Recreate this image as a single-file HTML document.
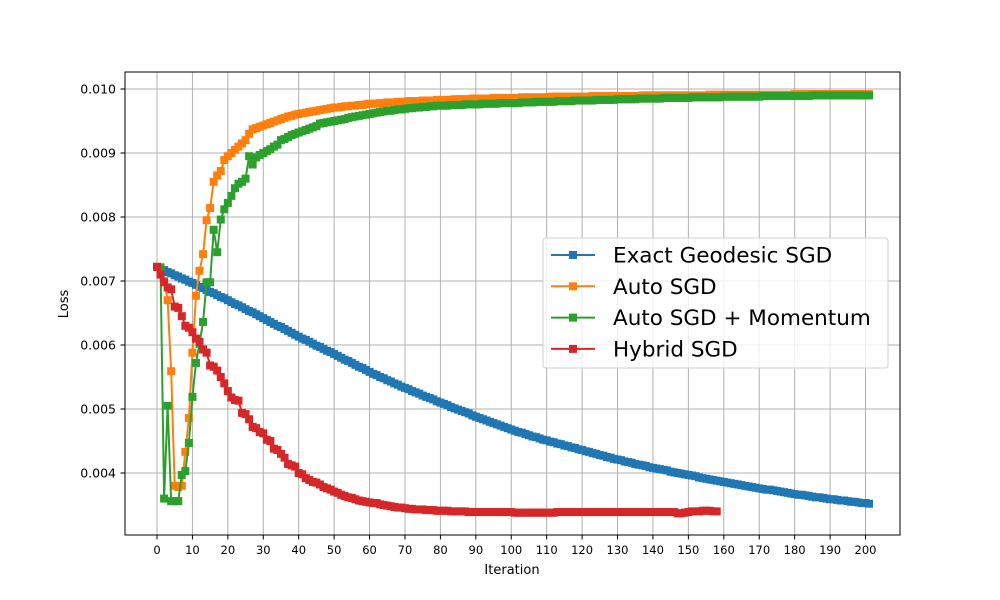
<!DOCTYPE html>
<html><head><meta charset="utf-8"><style>
html,body{margin:0;padding:0;background:#fff;}
svg{display:block;font-family:"DejaVu Sans","Liberation Sans",sans-serif;}
</style></head><body>
<svg id="chart" width="1000" height="600" viewBox="0 0 1000 600">
<rect x="0" y="0" width="1000" height="600" fill="#fff"/>
<g id="grid"></g>
<g id="series"></g>
<rect x="125" y="72" width="775" height="463" fill="none" stroke="#000" stroke-width="1"/>
<g id="xticks"></g>
<g id="yticks"></g>
<text x="512" y="574" font-size="13" text-anchor="middle">Iteration</text>
<text x="68" y="304" font-size="13" text-anchor="middle" transform="rotate(-90 68 304)">Loss</text>
<g id="legend"></g>
</svg>
<script>
// values are loss x 1e-3
const xTickLabels = [0,10,20,30,40,50,60,70,80,90,100,110,120,130,140,150,160,170,180,190,200];
const yTickValues = [4,5,6,7,8,9,10];
const yTickLabels = ["0.004","0.005","0.006","0.007","0.008","0.009","0.010"];
const seriesNames = ["Exact Geodesic SGD","Auto SGD","Auto SGD + Momentum","Hybrid SGD"];
const exactGeodesic = [7.22,7.19,7.17,7.14,7.12,7.09,7.07,7.04,7.02,6.99,6.97,
6.94,6.91,6.89,6.86,6.83,6.81,6.78,6.75,6.73,6.70,
6.67,6.64,6.62,6.59,6.56,6.53,6.51,6.48,6.45,6.42,
6.39,6.36,6.33,6.30,6.28,6.25,6.22,6.19,6.16,6.13,
6.10,6.08,6.05,6.02,5.99,5.97,5.94,5.91,5.89,5.86,
5.83,5.80,5.77,5.75,5.72,5.69,5.66,5.64,5.61,5.58,
5.55,5.53,5.50,5.48,5.45,5.43,5.40,5.38,5.35,5.33,
5.31,5.28,5.26,5.24,5.21,5.19,5.17,5.15,5.12,5.10,
5.08,5.06,5.03,5.01,4.99,4.97,4.95,4.93,4.90,4.88,
4.86,4.84,4.82,4.80,4.78,4.76,4.74,4.72,4.70,4.68,
4.66,4.64,4.63,4.61,4.59,4.57,4.56,4.54,4.52,4.51,
4.49,4.48,4.46,4.45,4.43,4.42,4.40,4.39,4.37,4.36,
4.34,4.33,4.31,4.30,4.28,4.27,4.25,4.24,4.22,4.21,
4.20,4.18,4.17,4.16,4.14,4.13,4.12,4.11,4.09,4.08,
4.07,4.06,4.05,4.04,4.02,4.01,4.00,3.99,3.98,3.97,
3.96,3.95,3.93,3.92,3.91,3.90,3.89,3.88,3.87,3.86,
3.85,3.84,3.83,3.82,3.81,3.80,3.79,3.78,3.77,3.76,
3.75,3.74,3.74,3.73,3.72,3.71,3.70,3.69,3.68,3.67,
3.66,3.66,3.65,3.64,3.63,3.62,3.62,3.61,3.60,3.59,
3.59,3.58,3.57,3.57,3.56,3.55,3.55,3.54,3.53,3.53,3.52];
const autoSgd = [7.22,7.22,7.00,6.70,5.59,3.80,3.78,3.80,4.33,4.86,5.88,
6.77,7.16,7.42,7.95,8.14,8.55,8.65,8.72,8.89,8.95,
9.00,9.05,9.10,9.15,9.20,9.30,9.37,9.39,9.41,9.43,
9.45,9.47,9.49,9.51,9.53,9.55,9.57,9.58,9.60,9.61,
9.62,9.63,9.64,9.65,9.66,9.67,9.68,9.69,9.70,9.71,
9.71,9.72,9.73,9.73,9.74,9.74,9.75,9.75,9.76,9.77,
9.77,9.77,9.78,9.78,9.79,9.79,9.79,9.80,9.80,9.80,
9.81,9.81,9.81,9.81,9.82,9.82,9.82,9.82,9.83,9.83,
9.83,9.83,9.83,9.84,9.84,9.84,9.84,9.84,9.85,9.85,
9.85,9.85,9.85,9.85,9.86,9.86,9.86,9.86,9.86,9.86,
9.86,9.86,9.87,9.87,9.87,9.87,9.87,9.87,9.87,9.87,
9.88,9.88,9.88,9.88,9.88,9.88,9.88,9.88,9.88,9.88,
9.88,9.88,9.89,9.89,9.89,9.89,9.89,9.89,9.89,9.89,
9.89,9.89,9.89,9.89,9.89,9.89,9.90,9.90,9.90,9.90,
9.90,9.90,9.90,9.90,9.90,9.90,9.90,9.90,9.90,9.90,
9.90,9.90,9.90,9.90,9.90,9.91,9.91,9.91,9.91,9.91,
9.91,9.91,9.91,9.91,9.91,9.91,9.91,9.91,9.91,9.91,
9.91,9.91,9.91,9.91,9.91,9.91,9.91,9.91,9.91,9.92,
9.92,9.92,9.92,9.92,9.92,9.92,9.92,9.92,9.92,9.92,
9.92,9.92,9.92,9.92,9.92,9.92,9.92,9.92,9.92,9.92,9.92];
const autoSgdMomentum = [7.22,7.20,3.60,5.05,3.56,3.56,3.56,3.97,4.03,4.47,5.19,
5.72,6.02,6.36,6.98,6.98,7.80,7.45,7.96,8.12,8.22,
8.33,8.45,8.52,8.55,8.60,8.95,8.82,8.93,8.97,9.00,
9.03,9.06,9.10,9.13,9.20,9.22,9.25,9.28,9.30,9.32,
9.34,9.36,9.38,9.40,9.42,9.46,9.47,9.48,9.49,9.50,
9.51,9.52,9.53,9.55,9.56,9.57,9.58,9.59,9.60,9.61,
9.62,9.63,9.64,9.65,9.66,9.66,9.67,9.68,9.68,9.69,
9.70,9.70,9.71,9.71,9.72,9.72,9.73,9.73,9.74,9.74,
9.74,9.74,9.75,9.75,9.75,9.75,9.76,9.76,9.76,9.76,
9.76,9.77,9.77,9.77,9.77,9.77,9.78,9.78,9.78,9.78,
9.78,9.78,9.79,9.79,9.79,9.79,9.80,9.80,9.80,9.80,
9.80,9.80,9.81,9.81,9.81,9.81,9.81,9.82,9.82,9.82,
9.82,9.82,9.82,9.83,9.83,9.83,9.83,9.83,9.83,9.84,
9.84,9.84,9.84,9.84,9.84,9.85,9.85,9.85,9.85,9.85,
9.85,9.85,9.86,9.86,9.86,9.86,9.86,9.86,9.86,9.86,
9.87,9.87,9.87,9.87,9.87,9.87,9.87,9.87,9.87,9.88,
9.88,9.88,9.88,9.88,9.88,9.88,9.88,9.88,9.88,9.88,
9.89,9.89,9.89,9.89,9.89,9.89,9.89,9.89,9.89,9.89,
9.89,9.89,9.89,9.89,9.90,9.90,9.90,9.90,9.90,9.90,
9.90,9.90,9.90,9.90,9.90,9.90,9.90,9.90,9.90,9.90,9.90];
const hybridSgd = [7.22,7.10,6.98,6.90,6.87,6.60,6.58,6.45,6.30,6.27,6.20,
6.10,6.05,5.93,5.88,5.68,5.66,5.60,5.50,5.40,5.28,
5.18,5.14,5.13,4.94,4.92,4.84,4.72,4.70,4.64,4.62,
4.52,4.50,4.38,4.36,4.30,4.24,4.14,4.12,4.10,4.00,
3.98,3.92,3.89,3.86,3.85,3.82,3.78,3.76,3.74,3.71,
3.69,3.66,3.64,3.62,3.61,3.59,3.57,3.56,3.55,3.54,
3.53,3.53,3.51,3.50,3.49,3.48,3.47,3.46,3.46,3.45,
3.44,3.44,3.43,3.43,3.43,3.42,3.42,3.42,3.41,3.41,
3.41,3.41,3.40,3.40,3.40,3.40,3.40,3.39,3.39,3.39,
3.39,3.39,3.39,3.39,3.39,3.39,3.39,3.39,3.39,3.39,
3.38,3.38,3.38,3.38,3.38,3.38,3.38,3.38,3.38,3.38,
3.38,3.38,3.39,3.39,3.39,3.39,3.39,3.39,3.39,3.39,
3.39,3.39,3.39,3.39,3.39,3.39,3.39,3.39,3.39,3.39,
3.39,3.39,3.39,3.39,3.39,3.39,3.39,3.39,3.39,3.39,
3.39,3.39,3.39,3.39,3.39,3.39,
3.37,3.37,3.38,3.39,3.40,3.40,3.40,3.41,3.41,3.41,3.40,3.40];
const colors = ["#1f77b4","#ff7f0e","#2ca02c","#d62728"];

const NS = "http://www.w3.org/2000/svg";
function xScale(i){ return 157 + (865.5-157)*i/200; }
function yScale(v){ return 89 + (10 - v)*64; }
function mk(tag, attrs, parent){ const e=document.createElementNS(NS,tag); for(const k in attrs) e.setAttribute(k,attrs[k]); parent.appendChild(e); return e; }

const grid=document.getElementById('grid'), xt=document.getElementById('xticks'), yt=document.getElementById('yticks');
xTickLabels.forEach(t=>{
  const x=xScale(t);
  const g=mk('line',{x1:x,x2:x,y1:72,y2:535,stroke:'#b0b0b0','stroke-width':1},grid);
  
  
  const tk=mk('line',{x1:x,x2:x,y1:535,y2:539.5,stroke:'#000','stroke-width':1},xt);
  
  
  const tx=mk('text',{x:x,y:554,'font-size':11.5,'text-anchor':'middle'},xt);
  tx.textContent=t;
  
  
});
yTickValues.forEach((v,k)=>{
  const y=yScale(v);
  const g=mk('line',{x1:125,x2:900,y1:y,y2:y,stroke:'#b0b0b0','stroke-width':1},grid);
  
  
  const tk=mk('line',{x1:120.5,x2:125,y1:y,y2:y,stroke:'#000','stroke-width':1},yt);
  
  
  const tx=mk('text',{x:116,y:y+4.5,'font-size':12.5,'text-anchor':'end'},yt);
  tx.textContent=yTickLabels[k];
  
  
});

const sl=document.getElementById('series');
[exactGeodesic,autoSgd,autoSgdMomentum,hybridSgd].forEach((arr,s)=>{
  const g=mk('g',{},sl);
  
  
  const pts=arr.map((v,i)=>xScale(i).toFixed(2)+','+yScale(v).toFixed(2)).join(' ');
  const pl=mk('polyline',{points:pts,fill:'none',stroke:colors[s],'stroke-width':2,'stroke-linejoin':'round'},g);
  
  
  arr.forEach((v,i)=>{
    const r=mk('rect',{x:xScale(i)-4,y:yScale(v)-4,width:8,height:8,fill:colors[s]},g);
    
    
  });
});

const lg=document.getElementById('legend');
const box=mk('rect',{x:543,y:238,width:345,height:130,rx:3,fill:'#fff','fill-opacity':0.8,stroke:'#d0d0d0','stroke-width':1},lg);


seriesNames.forEach((n,s)=>{
  const y=255+s*31.3;
  const g=mk('g',{},lg);
  
  
  mk('line',{x1:551,x2:595,y1:y,y2:y,stroke:colors[s],'stroke-width':2},g);
  mk('rect',{x:569,y:y-4,width:8,height:8,fill:colors[s]},g);
  const t=mk('text',{x:613,y:y+7.5,'font-size':21.5},g);
  t.textContent=n;
  
  
});
</script>
</body></html>
